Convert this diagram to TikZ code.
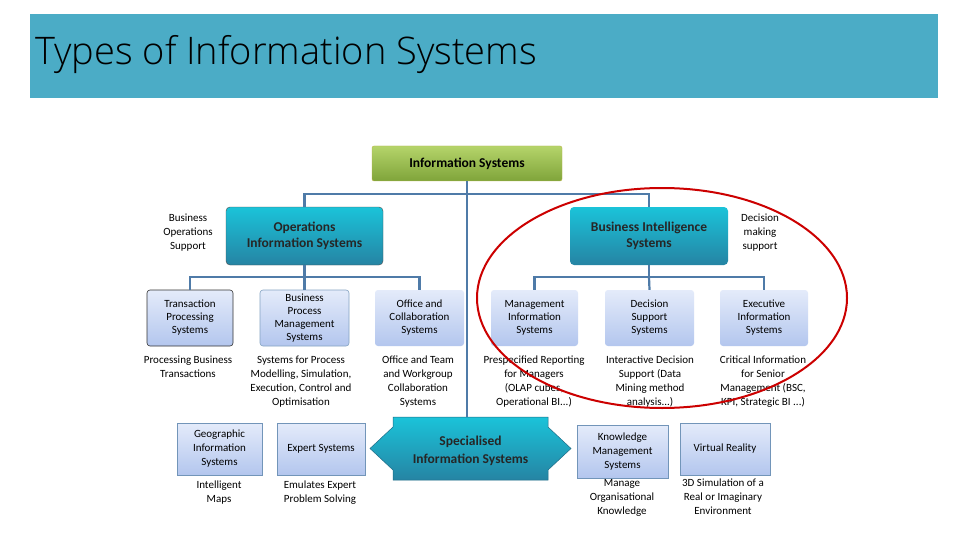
\documentclass[tikz,border=0pt]{standalone}
\usepackage{fontspec}
\setmainfont{Carlito}
\newfontfamily\titlefont{Open Sans Light}
\definecolor{band}{HTML}{4BACC6}
\definecolor{conn}{HTML}{4F7BA8}
\definecolor{teal}{HTML}{2C9BC0}
\definecolor{lbtop}{HTML}{E4EBFA}
\definecolor{lbbot}{HTML}{B3C6EE}
\definecolor{gtop}{HTML}{B5D46A}
\definecolor{gbot}{HTML}{7FA43A}
\begin{document}
\begin{tikzpicture}[x=1pt,y=-1pt,
  conn/.style={draw=conn,line width=2.2pt},
  light/.style={rounded corners=3pt,top color=lbtop,bottom color=lbbot,draw=none,align=center,font=\fontsize{11}{13}\selectfont,inner sep=1pt},
  lightb/.style={light,draw=black!80,line width=0.6pt},
  sq/.style={top color=lbtop,bottom color=lbbot,draw=conn!80,line width=0.6pt,align=center,font=\fontsize{11}{14}\selectfont,inner sep=1pt},
  dark/.style={rounded corners=4pt,top color=teal!60!cyan,bottom color=teal!85!black,draw=black!70,align=center,font=\fontsize{13.5}{16}\selectfont\bfseries,text=black!85},
  desc/.style={align=center,font=\fontsize{11}{14}\selectfont,inner sep=0pt},
]
\useasboundingbox (0,0) rectangle (960,540);
\fill[white] (0,0) rectangle (960,540);
\fill[band] (30,14) rectangle (938,98);
\node[anchor=west,font=\titlefont\fontsize{38}{40}\selectfont,inner sep=0pt] (title) at (35,55) {Types of Information Systems};

\node[rounded corners=2pt,top color=gtop,bottom color=gbot,draw=olive!60,minimum width=190pt,minimum height=35pt,font=\fontsize{13.5}{15}\selectfont\bfseries] (is) at (467,163.5) {Information Systems};

\node[dark,minimum width=157pt,minimum height=58pt] (ops) at (304.5,236) {Operations\\Information Systems};
\node[dark,draw=none,minimum width=158pt,minimum height=58pt] (bi) at (649,236) {Business Intelligence\\Systems};

\shade[top color=teal!60!cyan,bottom color=teal!85!black,draw=teal!70!black,line width=0.5pt]
  (393,417) -- (548,417) -- (548,427) -- (571,448.5) -- (548,470) -- (548,480) -- (393,480) -- (393,470) -- (370,448.5) -- (393,427) -- cycle;
\coordinate (spa) at (467,417);
\node[font=\fontsize{13.5}{18}\selectfont\bfseries,align=center,text=black!85] (spec) at (470.5,451) {Specialised\\Information Systems};

\coordinate (j1) at (467,194);
\draw[conn] (is.south) -- (j1);
\draw[conn] (ops.north) |- (j1) -| (bi.north);
\draw[conn] (j1) -- (spa);

\node[lightb,minimum width=86pt,minimum height=56pt] (tps) at (190,318) {Transaction\\Processing\\Systems};
\node[lightb,draw=conn!70,minimum width=89pt,minimum height=56pt] (bpm) at (304.5,318) {Business\\Process\\Management\\Systems};
\node[light,minimum width=89pt,minimum height=56pt] (off) at (419.5,318) {Office and\\Collaboration\\Systems};
\node[light,minimum width=87pt,minimum height=56pt] (mis) at (534.5,318) {Management\\Information\\Systems};
\node[light,minimum width=89pt,minimum height=56pt] (dss) at (649.5,318) {Decision\\Support\\Systems};
\node[light,minimum width=88pt,minimum height=56pt] (eis) at (764,318) {Executive\\Information\\Systems};

\draw[conn] (ops.south) -- ++(0,12) coordinate (j2);
\draw[conn] (tps.north) |- (j2) -| (off.north);
\draw[conn] (bpm.north) -- (j2);
\draw[conn] (bi.south) -- ++(0,12) coordinate (j3);
\draw[conn] (mis.north) |- (j3) -| (eis.north);
\draw[conn] (dss.north) -- (j3);

\node[desc] (dbo) at (188,233) {Business\\Operations\\Support};
\node[desc] (ddm) at (760,233) {Decision\\making\\support};

\node[desc,anchor=north] (d1) at (188,356) {Processing Business\\Transactions};
\node[desc,anchor=north] (d2) at (301,356) {Systems for Process\\Modelling, Simulation,\\Execution, Control and\\Optimisation};
\node[desc,anchor=north] (d3) at (418,356) {Office and Team\\and Workgroup\\Collaboration\\Systems};
\node[desc,anchor=north] (d4) at (534,356) {Prespecified Reporting\\for Managers\\(OLAP cubes,\\Operational BI...)};
\node[desc,anchor=north] (d5) at (650,356) {Interactive Decision\\Support (Data\\Mining method\\analysis...)};
\node[desc,anchor=north] (d6) at (763,356) {Critical Information\\for Senior\\Management (BSC,\\KPI, Strategic BI ...)};

\node[sq,minimum width=85pt,minimum height=52pt] (gis) at (219.5,449) {Geographic\\Information\\Systems};
\node[sq,minimum width=88pt,minimum height=52pt] (exp) at (321,449) {Expert Systems};
\node[sq,minimum width=91pt,minimum height=53pt] (kms) at (622.5,451.5) {Knowledge\\Management\\Systems};
\node[sq,minimum width=90pt,minimum height=52pt] (vr) at (725,449) {Virtual Reality};

\node[desc,anchor=north] (d7) at (219,481) {Intelligent\\Maps};
\node[desc,anchor=north] (d8) at (320,481) {Emulates Expert\\Problem Solving};
\node[desc,anchor=north] (d9) at (622,479) {Manage\\Organisational\\Knowledge};
\node[desc,anchor=north] (d10) at (723,479) {3D Simulation of a\\Real or Imaginary\\Environment};

\draw[red!80!black,line width=2pt] (662,298) ellipse [x radius=185pt,y radius=110pt];
\end{tikzpicture}
\end{document}
